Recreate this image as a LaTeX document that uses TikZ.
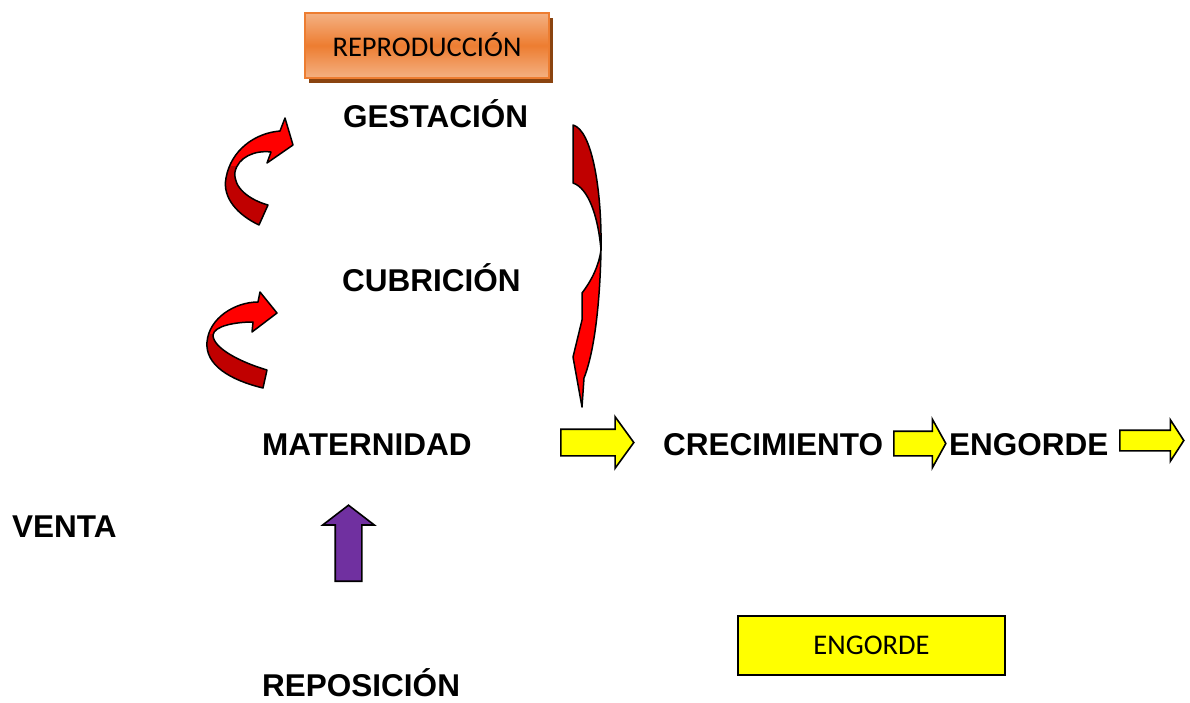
\documentclass[tikz,border=0pt]{standalone}
\usepackage{fontspec}
\setmainfont{Liberation Sans}
\newfontfamily\calibri{Carlito}
\usetikzlibrary{shapes.arrows, shadows}
\definecolor{naranja}{HTML}{ED7D31}
\definecolor{naranjaclaro}{HTML}{F4B183}
\definecolor{marron}{HTML}{8A4410}
\definecolor{rojo}{HTML}{FF0000}
\definecolor{rojooscuro}{HTML}{C00000}
\definecolor{morado}{HTML}{7030A0}
\definecolor{amarillo}{HTML}{FFFF00}
\tikzset{etapa/.style={anchor=base west, inner sep=0pt, font=\fontsize{31.5}{36}\selectfont\bfseries},
  caja/.style={font=\calibri\fontsize{28.5}{32}\selectfont, line width=1.5pt},
  flecha/.style={single arrow, draw=black, line width=1.6pt, fill=amarillo, inner xsep=0pt, minimum width=0pt},
  curva/.style={line width=1.5pt, line join=round}}
% contornos de las flechas curvas
\newcommand\curvaSup{(259,225) .. controls (238,215) and (222,198) .. (226,178) .. controls (231,150) and (255,133) .. (280,131) -- (285,118) -- (293,145) -- (267,163) -- (271,152) .. controls (255,150) and (238,157) .. (235,172) .. controls (233,188) and (250,200) .. (268,205) -- cycle}
\newcommand\curvaInf{(263,388) .. controls (230,380) and (205,365) .. (207,342) .. controls (209,318) and (235,302) .. (258,302) -- (260,292) -- (277,313) -- (252,332) -- (253,322) .. controls (235,322) and (214,326) .. (213,335) .. controls (213,348) and (240,362) .. (267,370) -- cycle}
\begin{document}
\begin{tikzpicture}[x=1pt, y=-1pt]
    \useasboundingbox (0,0) rectangle (1190,702);

    \node[caja, draw=naranja, top color=naranjaclaro, bottom color=naranjaclaro, middle color=naranja,
      drop shadow={shadow xshift=4pt, shadow yshift=-5pt, fill=marron, opacity=1},
      minimum width=244pt, minimum height=65pt] (repro) at (427,45.5) {\raisebox{2pt}{REPRODUCCIÓN}};
    \node[caja, draw=black, fill=amarillo, minimum width=267pt, minimum height=59pt] (engbox) at (871.5,645.5) {ENGORDE};

    \node[etapa] (gest) at (343,127) {GESTACIÓN};
    \node[etapa] (cubr) at (342,291) {CUBRICIÓN};
    \node[etapa] (mat) at (262,455) {MATERNIDAD};
    \node[etapa] (crec) at (663,455) {CRECIMIENTO};
    \node[etapa] (engo) at (949,455) {ENGORDE};
    \node[etapa] (venta) at (12,537) {VENTA};
    \node[etapa] (repos) at (262,696) {REPOSICIÓN};

    \node[flecha, anchor=tail, inner ysep=12.5pt, minimum height=73pt, single arrow head extend=12.5pt, single arrow tip angle=108] (flechaA) at (560,442.5) {};
    \node[flecha, anchor=tail, inner ysep=11.5pt, minimum height=52pt, single arrow head extend=12pt, single arrow tip angle=122] (flechaB) at (893,443.5) {};
    \node[flecha, anchor=tail, inner ysep=9.5pt, minimum height=64pt, single arrow head extend=10.5pt, single arrow tip angle=114] (flechaC) at (1119,440.5) {};
    \node[flecha, fill=morado, shape border rotate=90, anchor=tail, inner xsep=12.5pt, inner ysep=0pt, minimum height=76pt, single arrow head extend=12.5pt, single arrow tip angle=105] (flechaRep) at (348.5,582) {};

    % flechas curvas de la izquierda
    \fill[rojo] \curvaSup;
    \begin{scope}
      \clip \curvaSup;
      \fill[rojooscuro] (190,166) rectangle (300,240);
    \end{scope}
    \draw[curva] \curvaSup;

    \fill[rojo] \curvaInf;
    \begin{scope}
      \clip \curvaInf;
      \fill[rojooscuro] (190,334) rectangle (300,400);
    \end{scope}
    \draw[curva] \curvaInf;

    % flecha grande de gestacion a maternidad
    \filldraw[curva, fill=rojooscuro] (573,125) .. controls (592,130) and (602,190) .. (601,250) .. controls (598,215) and (588,188) .. (573,183) -- cycle;
    \filldraw[curva, fill=rojo] (601,250) .. controls (600,300) and (595,350) .. (584,378) -- (582,407) -- (573,357) -- (582,320) -- (582,293) .. controls (592,280) and (599,265) .. (601,250) -- cycle;
\end{tikzpicture}
\end{document}
